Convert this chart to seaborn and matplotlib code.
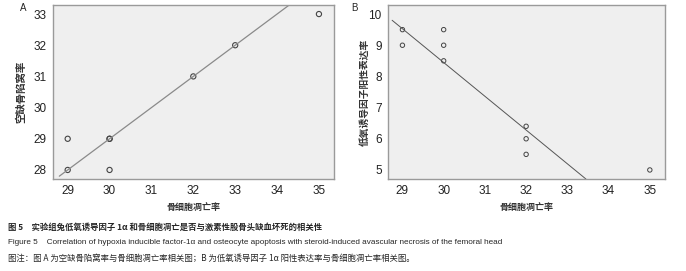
import matplotlib
matplotlib.use("Agg")
import matplotlib.pyplot as plt
import seaborn as sns
import pandas as pd

# Panel A data
a_x = [29, 29, 30, 30, 30, 32, 33, 35]
a_y = [28, 29, 28, 29, 29, 31, 32, 33]
a_fit_x = [28.8, 34.3]
a_fit_y = [27.8, 33.3]

# Panel B data
b_x = [29, 29, 30, 30, 30, 32, 32, 32, 35]
b_y = [9.5, 9.0, 9.5, 9.0, 8.5, 6.4, 6.0, 5.5, 5.0]
b_fit_x = [28.75, 33.45]
b_fit_y = [9.8, 4.71]

x_ticks = [29, 30, 31, 32, 33, 34, 35]
a_yticks = [28, 29, 30, 31, 32, 33]
b_yticks = [5, 6, 7, 8, 9, 10]

xlabel = "骨细胞凋亡率"
a_ylabel = "空缺骨陷窝率"
b_ylabel = "低氧诱导因子阳性表达率"
cap1 = "图 5　实验组兔低氧诱导因子 1α 和骨细胞凋亡是否与激素性股骨头缺血坏死的相关性"
cap2 = "Figure 5    Correlation of hypoxia inducible factor-1α and osteocyte apoptosis with steroid-induced avascular necrosis of the femoral head"
cap3 = "图注：图 A 为空缺骨陷窝率与骨细胞凋亡率相关图；B 为低氧诱导因子 1α 阳性表达率与骨细胞凋亡率相关图。"

sns.set_style("white")
plt.rcParams['font.family'] = ['Liberation Sans', 'Noto Sans CJK SC', 'DejaVu Sans']

fig = plt.figure(figsize=(6.86, 2.71), dpi=100)
axA = fig.add_axes([0.0773, 0.3395, 0.4096, 0.642])
axB = fig.add_axes([0.5656, 0.3395, 0.4033, 0.642])

dfA = pd.DataFrame({"x": a_x, "y": a_y})
dfB = pd.DataFrame({"x": b_x, "y": b_y})
fitA = pd.DataFrame({"x": a_fit_x, "y": a_fit_y})
fitB = pd.DataFrame({"x": b_fit_x, "y": b_fit_y})

def style(ax, yticks, ylim, ylabel, ylab_size, ylab_x):
    ax.set_facecolor("#efefef")
    ax.set_xlim(28.65, 35.36)
    ax.set_ylim(*ylim)
    ax.set_xticks(x_ticks)
    ax.set_yticks(yticks)
    for s in ax.spines.values():
        s.set_color("#9a9a9a")
        s.set_linewidth(1.0)
    ax.tick_params(axis="both", direction="out", length=3, width=0.7, color="#777777",
                   labelsize=8.5, labelcolor="#222222", pad=1.5)
    ax.set_xlabel(xlabel, fontsize=6.5, family=['Noto Sans CJK SC'], fontweight='bold', color="#333333")
    ax.set_ylabel(ylabel, fontsize=ylab_size, family=['Noto Sans CJK SC'], fontweight='bold', color="#333333")
    ax.xaxis.set_label_coords(0.5, -0.14)
    ax.yaxis.set_label_coords(ylab_x, 0.5)

sns.lineplot(data=fitA, x="x", y="y", ax=axA, color="#8a8a8a", linewidth=0.9)
sns.scatterplot(data=dfA, x="x", y="y", ax=axA, marker="o", s=14, facecolor="none",
                edgecolor="#444444", linewidth=0.8)
style(axA, a_yticks, (27.71, 33.29), a_ylabel, 7.5, -0.095)

sns.lineplot(data=fitB, x="x", y="y", ax=axB, color="#555555", linewidth=0.7)
sns.scatterplot(data=dfB, x="x", y="y", ax=axB, marker="o", s=10, facecolor="none",
                edgecolor="#444444", linewidth=0.7)
style(axB, b_yticks, (4.71, 10.29), b_ylabel, 7, -0.065)

fig.text(20/686, 1-8/271, "A", fontsize=7, ha='left', va='center')
fig.text(351/686, 1-8/271, "B", fontsize=7, ha='left', va='center')

fig.text(8/686, 1-227/271, cap1, fontsize=6, fontweight='bold',
         family=['Noto Sans CJK SC', 'DejaVu Sans'], va='center', ha='left')
fig.text(8/686, 1-242/271, cap2, fontsize=5.9,
         family=['Liberation Sans', 'DejaVu Sans'], va='center', ha='left')
fig.text(8/686, 1-258/271, cap3, fontsize=6,
         family=['Noto Sans CJK SC', 'DejaVu Sans'], va='center', ha='left')

fig.savefig("out.png", dpi=100)
